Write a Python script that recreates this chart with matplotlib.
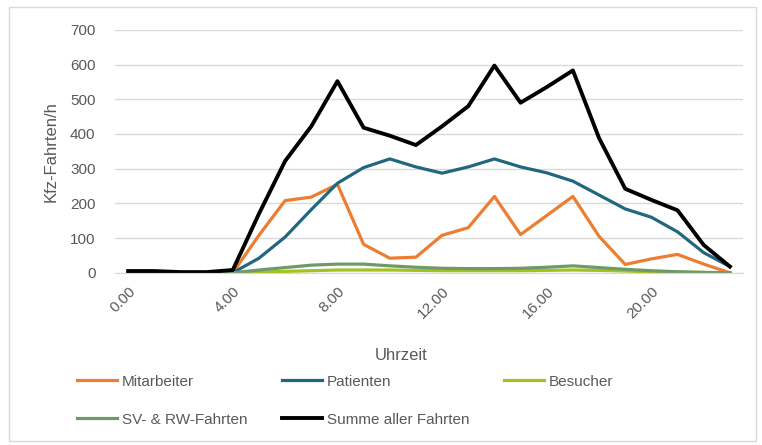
import matplotlib.pyplot as plt
import matplotlib.patches as patches

# Hourly traffic volumes (Kfz-Fahrten/h), hours 0..23
hours = list(range(24))
mitarbeiter = [0, 0, 0, 0, 0, 108, 208, 218, 255, 82, 42, 45, 108, 130, 220, 110,
               165, 220, 105, 24, 40, 53, 25, 0]
patienten = [0, 0, 0, 0, 0, 42, 103, 182, 258, 303, 328, 305, 287, 305, 328, 305,
             288, 264, 224, 184, 160, 118, 58, 18]
besucher = [0, 0, 0, 0, 0, 2, 4, 6, 8, 8, 8, 7, 6, 6, 6, 6,
            7, 8, 7, 5, 3, 2, 1, 0]
sv_rw = [0, 0, 0, 0, 0, 8, 15, 22, 25, 25, 20, 16, 13, 12, 12, 13,
         16, 20, 15, 10, 6, 3, 1, 0]
summe = [5, 5, 2, 2, 8, 170, 322, 422, 552, 418, 395, 368, 422, 480, 597, 490,
         535, 583, 388, 242, 210, 180, 80, 18]

tick_hours = [0, 4, 8, 12, 16, 20]
tick_labels = ["0.00", "4.00", "8.00", "12.00", "16.00", "20.00"]

plt.rcParams['font.family'] = ['Liberation Sans Narrow', 'Liberation Sans', 'DejaVu Sans']
grey = "#595959"

fig = plt.figure(figsize=(7.62, 4.45), dpi=100)
ax = fig.add_axes([0.151, 0.387, 0.824, 0.546])

# chart area border
fig.patches.append(patches.Rectangle((0.012, 0.01), 0.98, 0.975, transform=fig.transFigure,
                                     fill=False, edgecolor="#D9D9D9", linewidth=1))

lw = 2.3
l_m, = ax.plot(hours, mitarbeiter, color="#ED7D31", lw=lw, label="Mitarbeiter")
l_p, = ax.plot(hours, patienten, color="#21677F", lw=lw, label="Patienten")
l_b, = ax.plot(hours, besucher, color="#A2C21E", lw=lw, label="Besucher")
l_s, = ax.plot(hours, sv_rw, color="#6E9A6A", lw=lw, label="SV- & RW-Fahrten")
l_t, = ax.plot(hours, summe, color="#000000", lw=2.8, label="Summe aller Fahrten")

ax.set_xlim(-0.5, 23.5)
ax.set_ylim(0, 700)
ax.set_yticks(range(0, 701, 100))
ax.grid(True, axis='y', color="#D9D9D9", linewidth=1)
ax.set_axisbelow(True)
for s in ["top", "right", "left"]:
    ax.spines[s].set_visible(False)
ax.spines["bottom"].set_color("#D9D9D9")

ax.set_xticks(tick_hours)
ax.set_xticklabels(tick_labels, rotation=45, ha='right', rotation_mode='anchor')
ax.tick_params(axis='both', length=0, labelsize=11, labelcolor=grey)
ax.tick_params(axis='x', pad=8)
ax.tick_params(axis='y', pad=14)

ax.set_ylabel("Kfz-Fahrten/h", fontsize=12, color=grey, labelpad=8)
ax.set_xlabel("Uhrzeit", fontsize=12, color=grey)
ax.xaxis.set_label_coords(0.455, -0.31)

# legend filled column-wise, so order handles to read row-wise like the original
handles = [l_m, l_s, l_p, l_t, l_b]
ax.legend(handles=handles, labels=[h.get_label() for h in handles],
          loc='upper left', bbox_to_anchor=(-0.06, -0.42), ncol=3, frameon=False,
          fontsize=11, labelcolor=grey, handlelength=2.6, handletextpad=0.3,
          columnspacing=2.3, borderaxespad=0, borderpad=0, labelspacing=1.55)

fig.savefig("out.png", dpi=100)
